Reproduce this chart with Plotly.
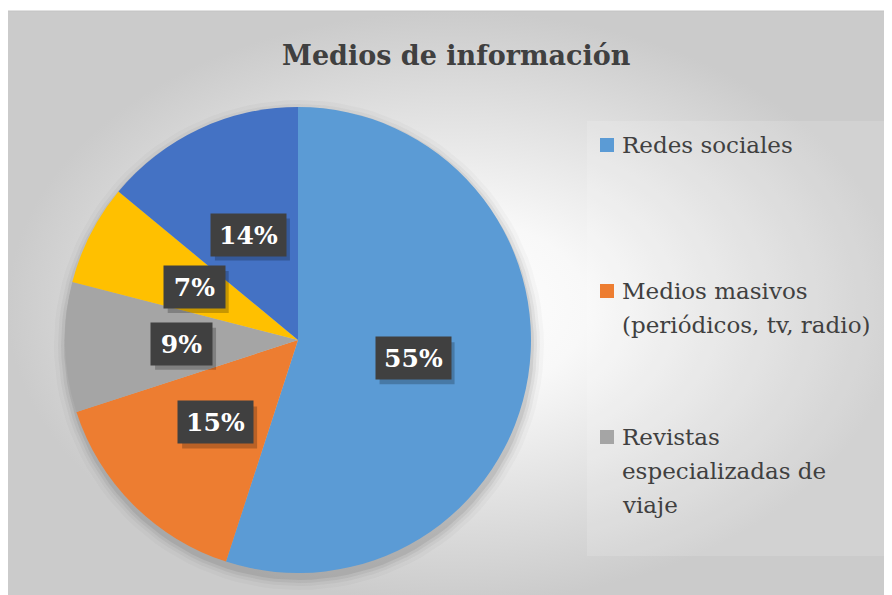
import math
import plotly.graph_objects as go

# ---- data ----
labels = ["Redes sociales", "Medios masivos (periódicos, tv, radio)",
          "Revistas especializadas de viaje", "Otros medios", "Recomendaciones"]
values = [55, 15, 9, 7, 14]
colors = ["#5B9BD5", "#ED7D31", "#A5A5A5", "#FFC000", "#4472C4"]
legend_labels = ["Redes sociales", "Medios masivos<br>(periódicos, tv, radio)",
                 "Revistas<br>especializadas de<br>viaje"]
title_text = "Medios de información"

W, H = 892, 595
OFF = 8  # page offset of the plot in the browser
serif = "DejaVu Serif"


def px(v):
    return v - OFF


# pie geometry (reference pixels)
CX, CY, R = 298, 340, 233

fig = go.Figure()

# background with radial gradient
fig.add_trace(go.Scatter(
    x=[px(7), W, W, px(7), px(7)], y=[px(11), px(11), H, H, px(11)], mode="lines",
    fill="toself", line=dict(color="#C4C4C4", width=1),
    fillgradient=dict(type="radial",
                      colorscale=[[0, "#FFFFFF"], [0.3, "#F8F8F8"], [1, "#CBCBCB"]]),
    hoverinfo="skip", showlegend=False))

# legend area slightly lighter
fig.add_trace(go.Scatter(
    x=[px(587), px(887), px(887), px(587), px(587)],
    y=[px(121), px(121), px(556), px(556), px(121)], mode="lines",
    fill="toself", line=dict(width=0), fillcolor="rgba(255,255,255,0.15)",
    hoverinfo="skip", showlegend=False))

# soft shadow under pie
for dr, op in [(12, 0.025), (8, 0.035), (5, 0.05), (2, 0.07)]:
    n = 120
    xs = [px(CX + 1) + (R + dr) * math.cos(2 * math.pi * k / n) for k in range(n + 1)]
    ys = [px(CY + 5) + (R + dr) * math.sin(2 * math.pi * k / n) for k in range(n + 1)]
    fig.add_trace(go.Scatter(x=xs, y=ys, mode="lines", fill="toself",
                             line=dict(width=0), fillcolor=f"rgba(0,0,0,{op})",
                             hoverinfo="skip", showlegend=False))

fig.add_trace(go.Pie(
    labels=labels, values=values, sort=False, direction="clockwise",
    rotation=0, marker=dict(colors=colors, line=dict(width=0)),
    textinfo="none", hoverinfo="label+percent", showlegend=False,
    domain=dict(x=[px(CX - R) / W, px(CX + R) / W],
                y=[(H - px(CY) - R) / H, (H - px(CY) + R) / H])))

annotations = []
shapes = []
total = sum(values)
cum = 0
for v in values:
    theta = (cum + v / 2) / total * 2 * math.pi
    cum += v
    lx = px(CX + 0.5 * R * math.sin(theta))
    ly = px(CY - 0.5 * R * math.cos(theta))
    pct = round(v / total * 100)
    bw = 75 if pct >= 10 else 61
    # drop shadow of the label box
    shapes.append(dict(type="rect", xref="x", yref="y",
                       x0=lx - bw / 2 + 4, x1=lx + bw / 2 + 4,
                       y0=ly - 21 + 5, y1=ly + 21 + 5,
                       fillcolor="rgba(0,0,0,0.22)", line=dict(width=0), layer="above"))
    annotations.append(dict(x=lx, y=ly, xref="x", yref="y",
                            text=f"<b>{pct}%</b>",
                            showarrow=False, bgcolor="#404040",
                            width=bw, height=42, borderpad=0,
                            font=dict(family=serif, size=25, color="white")))

# manual legend
leg_y = [145, 291, 437]
LINE = 34
for i, (lab, yy) in enumerate(zip(legend_labels, leg_y)):
    shapes.append(dict(type="rect", xref="x", yref="y", x0=px(600), x1=px(614),
                       y0=px(yy - 7), y1=px(yy + 7), fillcolor=colors[i],
                       line=dict(width=0)))
    for k, line in enumerate(lab.split("<br>")):
        annotations.append(dict(x=px(620), y=px(yy + k * LINE), xref="x", yref="y",
                                text=line, showarrow=False,
                                xanchor="left", yanchor="middle", align="left",
                                font=dict(family=serif, size=23, color="#404040")))

annotations.append(dict(x=px(456), y=px(55), xref="x", yref="y",
                        text=f"<b>{title_text}</b>", showarrow=False,
                        font=dict(family=serif, size=27, color="#404040")))

fig.update_layout(
    width=W, height=H, margin=dict(l=0, r=0, t=0, b=0),
    paper_bgcolor="white", plot_bgcolor="white",
    font=dict(family=serif),
    xaxis=dict(range=[0, W], visible=False, fixedrange=True),
    yaxis=dict(range=[H, 0], visible=False, fixedrange=True),
    annotations=annotations, shapes=shapes, showlegend=False)

fig.write_html("out.html")
